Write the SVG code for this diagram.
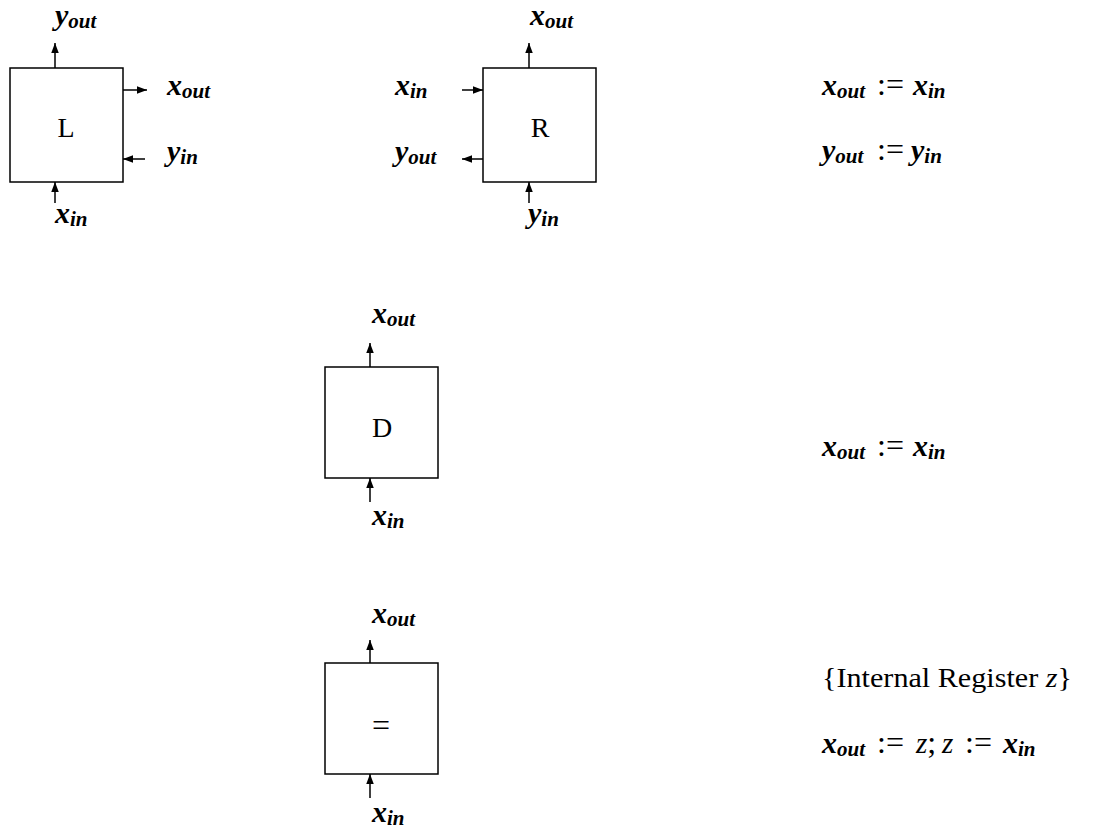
<svg xmlns="http://www.w3.org/2000/svg" width="1094" height="834" viewBox="0 0 1094 834">
  <defs>
    <marker id="head" markerUnits="userSpaceOnUse" markerWidth="11" markerHeight="8" refX="10" refY="3.75" orient="auto">
      <path d="M0,0 L10,3.75 L0,7.5 Z" fill="#000"/>
    </marker>
    <style>
      .box { fill: #fff; stroke: #000; stroke-width: 1.5; }
      .wire { fill: none; stroke: #000; stroke-width: 1.5; marker-end: url(#head); }
      .name { font-family: "Liberation Serif", "Times New Roman", serif; font-size: 28px; text-anchor: middle; fill: #000; }
      .var { font-family: "Liberation Serif", "Times New Roman", serif; font-size: 30px; font-style: italic; font-weight: bold; fill: #000; }
      .sub { font-size: 21px; }
      .op { font-style: normal; font-weight: normal; font-size: 32px; }
      .zv { font-style: italic; font-weight: normal; font-size: 29px; }
      .txt { font-family: "Liberation Serif", "Times New Roman", serif; font-size: 27px; fill: #000; }
      .it { font-style: italic; }
    </style>
  </defs>

  <rect width="1094" height="834" fill="#fff"/>

  <!-- connectors -->
  <g id="connectors">
    <!-- L cell -->
    <line class="wire" x1="55" y1="68" x2="55" y2="43"/>
    <line class="wire" x1="123" y1="90" x2="147" y2="90"/>
    <line class="wire" x1="145" y1="159" x2="123" y2="159"/>
    <line class="wire" x1="55" y1="203" x2="55" y2="182"/>
    <!-- R cell -->
    <line class="wire" x1="529" y1="68" x2="529" y2="43"/>
    <line class="wire" x1="462" y1="90" x2="483" y2="90"/>
    <line class="wire" x1="483" y1="159" x2="462" y2="159"/>
    <line class="wire" x1="529" y1="203" x2="529" y2="182"/>
    <!-- D cell -->
    <line class="wire" x1="370" y1="367" x2="370" y2="343"/>
    <line class="wire" x1="370" y1="502" x2="370" y2="478"/>
    <!-- = cell -->
    <line class="wire" x1="370" y1="663" x2="370" y2="640"/>
    <line class="wire" x1="370" y1="798" x2="370" y2="774"/>
  </g>

  <!-- L cell -->
  <g id="node-L">
    <rect class="box" x="10" y="68" width="113" height="114"/>
    <text class="name" x="66" y="137">L</text>
    <text class="var" x="55" y="25">y<tspan class="sub" dy="3">out</tspan></text>
    <text class="var" x="167" y="95">x<tspan class="sub" dy="3">out</tspan></text>
    <text class="var" x="167" y="161">y<tspan class="sub" dy="3">in</tspan></text>
    <text class="var" x="55" y="223">x<tspan class="sub" dy="3">in</tspan></text>
  </g>

  <!-- R cell -->
  <g id="node-R">
    <rect class="box" x="483" y="68" width="113" height="114"/>
    <text class="name" x="540" y="137">R</text>
    <text class="var" x="530" y="25">x<tspan class="sub" dy="3">out</tspan></text>
    <text class="var" x="395" y="95">x<tspan class="sub" dy="3">in</tspan></text>
    <text class="var" x="395" y="161">y<tspan class="sub" dy="3">out</tspan></text>
    <text class="var" x="528" y="223">y<tspan class="sub" dy="3">in</tspan></text>
  </g>

  <!-- equations for L and R -->
  <g id="eq-LR">
    <text class="var" x="822" y="95">x<tspan class="sub" dy="3">out</tspan><tspan class="op" x="877" dy="-3">:=</tspan><tspan x="913">x</tspan><tspan class="sub" dy="3">in</tspan></text>
    <text class="var" x="822" y="160">y<tspan class="sub" dy="3">out</tspan><tspan class="op" x="877" dy="-3">:=</tspan><tspan x="911">y</tspan><tspan class="sub" dy="3">in</tspan></text>
  </g>

  <!-- D cell -->
  <g id="node-D">
    <rect class="box" x="325" y="367" width="113" height="111"/>
    <text class="name" x="382" y="437">D</text>
    <text class="var" x="372" y="323">x<tspan class="sub" dy="3">out</tspan></text>
    <text class="var" x="372" y="525">x<tspan class="sub" dy="3">in</tspan></text>
  </g>

  <g id="eq-D">
    <text class="var" x="822" y="456">x<tspan class="sub" dy="3">out</tspan><tspan class="op" x="877" dy="-3">:=</tspan><tspan x="913">x</tspan><tspan class="sub" dy="3">in</tspan></text>
  </g>

  <!-- = cell -->
  <g id="node-eq">
    <rect class="box" x="325" y="663" width="113" height="111"/>
    <text class="name" x="381" y="736" style="font-size:32px">=</text>
    <text class="var" x="372" y="623">x<tspan class="sub" dy="3">out</tspan></text>
    <text class="var" x="372" y="822">x<tspan class="sub" dy="3">in</tspan></text>
  </g>

  <g id="eq-register">
    <text class="txt" x="822" y="687" textLength="250" lengthAdjust="spacingAndGlyphs">{Internal Register <tspan class="it">z</tspan>}</text>
    <text class="var" x="822" y="753">x<tspan class="sub" dy="3">out</tspan><tspan class="op" x="877" dy="-3">:=</tspan><tspan class="zv" x="916">z</tspan><tspan class="op">;</tspan><tspan class="zv" x="942">z</tspan><tspan class="op" x="965">:=</tspan><tspan x="1003">x</tspan><tspan class="sub" dy="3">in</tspan></text>
  </g>
</svg>
